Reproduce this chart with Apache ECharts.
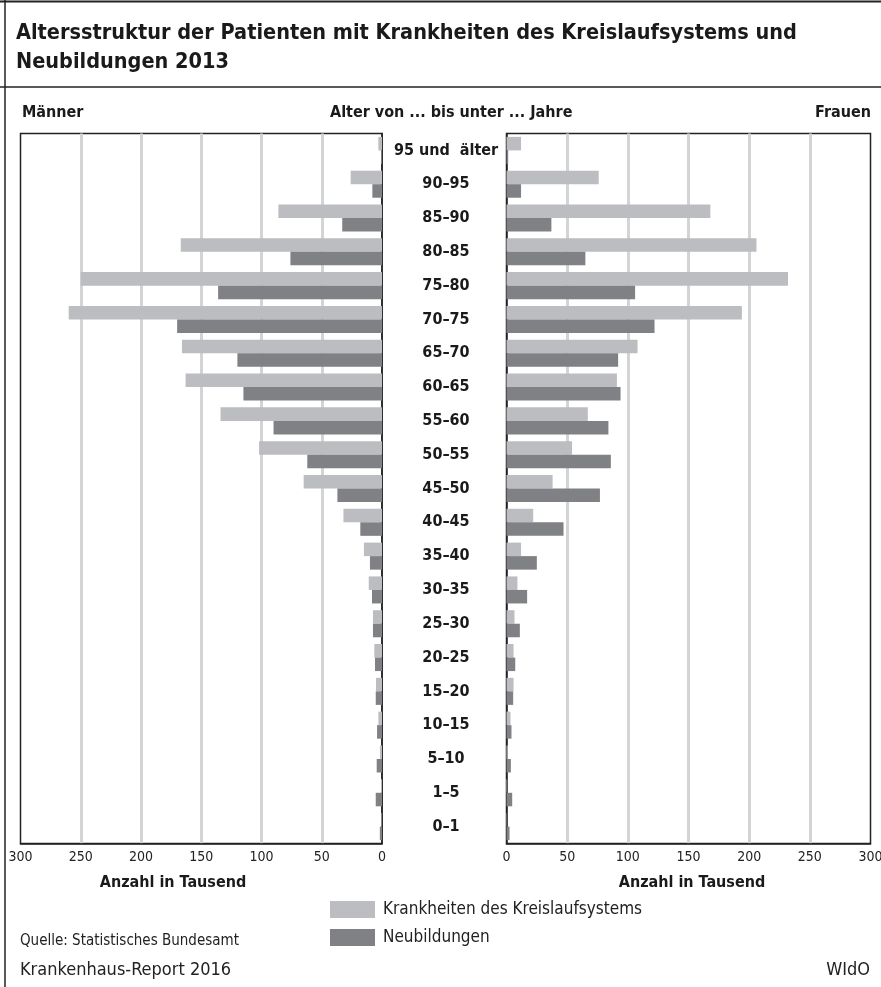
<!DOCTYPE html>
<html>
<head>
<meta charset="utf-8">
<script src="https://cdn.jsdelivr.net/npm/echarts@6/dist/echarts.min.js"></script>
<style>
  html, body { margin: 0; padding: 0; background: #fff; }
  #chart { width: 881px; height: 987px; }
</style>
</head>
<body>
<div id="chart"></div>
<script>
// Age groups, oldest at the top
const ageGroups = ['95 und  älter', '90–95', '85–90', '80–85', '75–80', '70–75', '65–70',
  '60–65', '55–60', '50–55', '45–50', '40–45', '35–40', '30–35', '25–30', '20–25',
  '15–20', '10–15', '5–10', '1–5', '0–1'];

// Patients in thousands – men
const menCirculatory = [3, 26, 86, 167, 250, 260, 166, 163, 134, 102, 65, 32, 15, 11, 7.5, 6.4, 5, 3, 1.7, 0.8, 0.5];
const menNeoplasms   = [0.8, 8, 33, 76, 136, 170, 120, 115, 90, 62, 37, 18, 10, 8.3, 7.5, 5.8, 5.2, 4.1, 4.4, 5.2, 1.8];

// Patients in thousands – women
const womenCirculatory = [12, 76, 168, 206, 232, 194, 108, 91, 67, 54, 38, 22, 12, 9, 6.6, 5.8, 5.8, 3.3, 1, 0.5, 0.3];
const womenNeoplasms   = [1.4, 12, 37, 65, 106, 122, 92, 94, 84, 86, 77, 47, 25, 17, 11, 7.2, 5.5, 4.1, 3.6, 4.7, 2.5];

const xTicks = [0, 50, 100, 150, 200, 250, 300];

const seriesNames = ['Krankheiten des Kreislaufsystems', 'Neubildungen'];
const LIGHT = '#bcbdc0';
const DARK = '#808184';
const FONT = '"Liberation Sans Narrow", "DejaVu Sans Condensed", "Roboto", sans-serif';

const chart = echarts.init(document.getElementById('chart'), null, { renderer: 'canvas' });

function valueAxis(gridIndex, inverse) {
  return {
    type: 'value', gridIndex, inverse,
    min: xTicks[0], max: xTicks[xTicks.length - 1], interval: 50,
    axisLine: { show: true, lineStyle: { color: '#222', width: 1.5 } },
    axisTick: { show: false },
    axisLabel: { color: '#222', fontSize: 14, fontFamily: FONT, margin: 7 },
    splitLine: { show: true, showMinLine: false, showMaxLine: false, lineStyle: { color: '#d3d4d6', width: 3 } }
  };
}

function barSeries(name, color, data, idx) {
  return {
    name, type: 'bar', xAxisIndex: idx, yAxisIndex: idx, data,
    barGap: '0%', barCategoryGap: '20%',
    itemStyle: { color },
    silent: true
  };
}

const option = {
  animation: false,
  grid: [
    { left: 20.5, top: 133.5, width: 361.5, height: 710, show: true, borderColor: '#222', borderWidth: 1.5, containLabel: false, outerBoundsMode: 'none' },
    { left: 506.5, top: 133.5, width: 364, height: 710, show: true, borderColor: '#222', borderWidth: 1.5, containLabel: false, outerBoundsMode: 'none' }
  ],
  xAxis: [valueAxis(0, true), valueAxis(1, false)],
  yAxis: [
    {
      type: 'category', gridIndex: 0, data: ageGroups, inverse: true, position: 'right',
      axisLine: { show: true, lineStyle: { color: '#222', width: 1.5 } },
      axisTick: { show: false },
      axisLabel: { align: 'center', margin: 64, fontSize: 16, fontWeight: 'bold', color: '#1a1a1a', fontFamily: FONT }
    },
    {
      type: 'category', gridIndex: 1, data: ageGroups, inverse: true,
      axisLine: { show: true, lineStyle: { color: '#222', width: 1.5 } },
      axisTick: { show: false }, axisLabel: { show: false }
    }
  ],
  legend: {
    data: seriesNames, orient: 'vertical', left: 325, top: 896,
    itemWidth: 45, itemHeight: 17, itemGap: 11, icon: 'rect',
    textStyle: { fontSize: 17, color: '#222', fontFamily: FONT, padding: [0, 0, 0, 3] },
    selectedMode: false
  },
  series: [
    barSeries(seriesNames[0], LIGHT, menCirculatory, 0),
    barSeries(seriesNames[1], DARK, menNeoplasms, 0),
    barSeries(seriesNames[0], LIGHT, womenCirculatory, 1),
    barSeries(seriesNames[1], DARK, womenNeoplasms, 1)
  ],
  graphic: [
    { type: 'line', shape: { x1: 0, y1: 1.5, x2: 881, y2: 1.5 }, style: { stroke: '#222', lineWidth: 2 } },
    { type: 'line', shape: { x1: 5, y1: 0, x2: 5, y2: 987 }, style: { stroke: '#222', lineWidth: 1.5 } },
    { type: 'line', shape: { x1: 0, y1: 87, x2: 881, y2: 87 }, style: { stroke: '#222', lineWidth: 1.5 } },
    { type: 'text', left: 16, top: 22, style: { text: 'Altersstruktur der Patienten mit Krankheiten des Kreislaufsystems und', font: 'bold 21.5px ' + FONT, fill: '#1a1a1a' } },
    { type: 'text', left: 16, top: 51, style: { text: 'Neubildungen 2013', font: 'bold 21.5px ' + FONT, fill: '#1a1a1a' } },
    { type: 'text', left: 22, top: 105, style: { text: 'Männer', font: 'bold 16px ' + FONT, fill: '#1a1a1a' } },
    { type: 'text', left: 330, top: 105, style: { text: 'Alter von ... bis unter ... Jahre', font: 'bold 16px ' + FONT, fill: '#1a1a1a' } },
    { type: 'text', right: 10, top: 105, style: { text: 'Frauen', font: 'bold 16px ' + FONT, fill: '#1a1a1a' } },
    { type: 'text', x: 173, y: 883, style: { text: 'Anzahl in Tausend', font: 'bold 16px ' + FONT, fill: '#1a1a1a', textAlign: 'center', textVerticalAlign: 'middle' } },
    { type: 'text', x: 692, y: 883, style: { text: 'Anzahl in Tausend', font: 'bold 16px ' + FONT, fill: '#1a1a1a', textAlign: 'center', textVerticalAlign: 'middle' } },
    { type: 'text', left: 20, top: 934, style: { text: 'Quelle: Statistisches Bundesamt', font: '15px ' + FONT, fill: '#222' } },
    { type: 'text', left: 20, top: 961, style: { text: 'Krankenhaus-Report 2016', font: '18px ' + FONT, fill: '#222' } },
    { type: 'text', right: 11, top: 961, style: { text: 'WIdO', font: '18px ' + FONT, fill: '#222' } }
  ]
};

chart.setOption(option);
</script>
</body>
</html>
